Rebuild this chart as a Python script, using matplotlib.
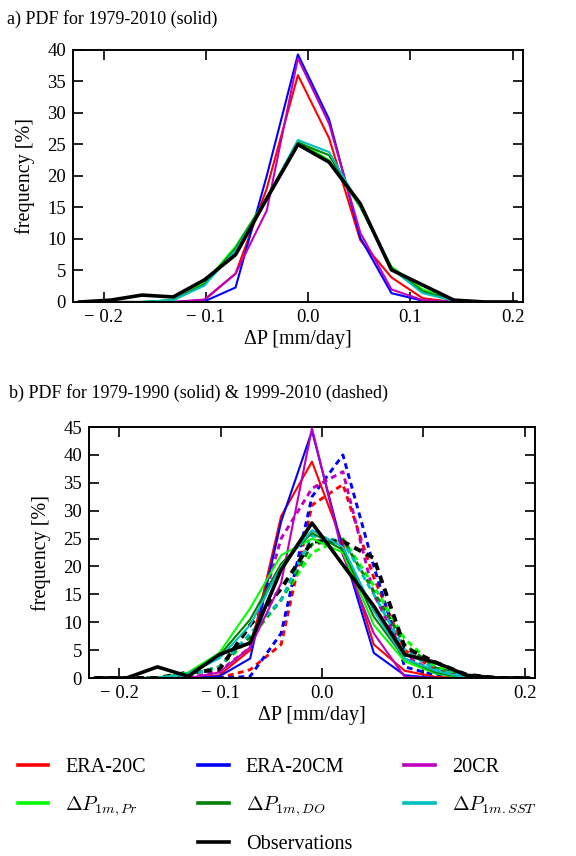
import numpy as np
import matplotlib
matplotlib.use("Agg")
import matplotlib.pyplot as plt
from matplotlib.lines import Line2D

plt.rcParams['font.family'] = ['Liberation Serif', 'DejaVu Serif']
plt.rcParams['mathtext.fontset'] = 'cm'

# bin centres (mm/day)
dp = [-0.2235, -0.193, -0.1625, -0.132, -0.1015, -0.071, -0.0405, -0.01,
      0.0205, 0.051, 0.0815, 0.112, 0.1425, 0.173, 0.2035]

names = ['ERA-20C', 'ERA-20CM', '20CR', 'Pr', 'DO', 'SST', 'Observations']
colors = ['#ff0000', '#0000ff', '#bf00bf', '#00ff00', '#008000', '#00bfbf', '#000000']

# panel a: 1979-2010
a_era20c = [0, 0, 0, 0, 0.3, 4.5, 18, 36, 26, 9.8, 3.9, 0.6, 0, 0, 0]
a_era20cm = [0, 0, 0, 0, 0.1, 2.3, 20, 39.3, 29, 10.2, 1.4, 0.2, 0, 0, 0]
a_20cr = [0, 0, 0, 0, 0.4, 4.5, 14.5, 38.7, 28.3, 11, 2, 0.3, 0, 0, 0]
a_pr = [0, 0, 0, 0.3, 3, 8.8, 16.5, 25.5, 22.5, 15, 5.6, 2, 0.3, 0, 0]
a_do = [0, 0, 0, 0.3, 2.8, 8.5, 16.5, 25.3, 23.3, 15.2, 5.4, 1.7, 0.2, 0, 0]
a_sst = [0, 0, 0, 0.3, 2.6, 8.2, 16.5, 25.7, 23.8, 15.2, 5.3, 1.4, 0.2, 0, 0]
a_obs = [0, 0.3, 1.1, 0.8, 3.5, 7.5, 16.4, 25, 22.2, 15.6, 5.1, 2.7, 0.3, 0, 0]

# panel b: 1979-1990 (solid)
b1_era20c = [0, 0, 0, 0, 0.5, 5, 29, 38.8, 24, 6, 1.3, 0.2, 0, 0, 0]
b1_era20cm = [0, 0, 0, 0, 0.3, 3.5, 28, 44.3, 23, 4.5, 0.5, 0, 0, 0, 0]
b1_20cr = [0, 0, 0, 0, 1, 5.5, 17, 44.8, 22, 8, 0.2, 0, 0, 0, 0]
b1_pr = [0, 0, 0, 1, 4.5, 12.5, 22, 25, 22.5, 9.5, 3, 0.8, 0, 0, 0]
b1_do = [0, 0, 0, 0.8, 4, 10.5, 20.5, 26, 23, 11, 3.5, 1, 0, 0, 0]
b1_sst = [0, 0, 0, 0.8, 3.5, 9.5, 20, 26.5, 23.5, 12, 3.5, 1.3, 0, 0, 0]
b1_obs = [0, 0, 2, 0.3, 4.2, 6.3, 19.4, 27.8, 20.3, 12.9, 4.2, 2.8, 0.5, 0, 0]

# panel b: 1999-2010 (dashed)
b2_era20c = [0, 0, 0, 0, 0, 1.5, 6, 31, 34.7, 18, 5, 1.5, 0.3, 0, 0]
b2_era20cm = [0, 0, 0, 0, 0, 0.3, 8, 32.5, 40, 20, 2, 0.5, 0, 0, 0]
b2_20cr = [0, 0, 0, 0, 1.2, 5.5, 25, 34, 37, 15, 4, 1, 0, 0, 0]
b2_pr = [0, 0, 0, 0.5, 2, 7, 14, 22.5, 25, 16.5, 7, 2, 0.5, 0, 0]
b2_do = [0, 0, 0, 0.5, 2, 7.5, 14, 24, 24.8, 15.5, 6, 1.8, 0.4, 0, 0]
b2_sst = [0, 0, 0, 0.5, 2, 8, 14, 25.5, 24.5, 15, 5, 1.5, 0.3, 0, 0]
b2_obs = [0, 0, 0, 1, 1.5, 9.5, 16, 24.5, 24.5, 21.5, 5.5, 2.8, 0.6, 0, 0]

a_series = [a_era20c, a_era20cm, a_20cr, a_pr, a_do, a_sst, a_obs]
b1_series = [b1_era20c, b1_era20cm, b1_20cr, b1_pr, b1_do, b1_sst, b1_obs]
b2_series = [b2_era20c, b2_era20cm, b2_20cr, b2_pr, b2_do, b2_sst, b2_obs]

xticks = [-0.2, -0.1, 0.0, 0.1, 0.2]

fig = plt.figure(figsize=(5.76, 8.56), dpi=100)
ax1 = fig.add_axes([0.1267, 0.6472, 0.781, 0.2944])
ax2 = fig.add_axes([0.1545, 0.2079, 0.7743, 0.2932])


def style(ax, ymax):
    ax.set_xlim(-0.23, 0.21)
    ax.set_ylim(0, ymax)
    ax.set_xticks(xticks)
    ax.set_xticklabels(['\u2212 0.2', '\u2212 0.1', '0.0', '0.1', '0.2'])
    ax.set_yticks(np.arange(0, ymax + 1, 5))
    ax.tick_params(direction='in', top=True, right=True, length=7, width=1.2,
                   labelsize=13.5, pad=5)
    for s in ax.spines.values():
        s.set_linewidth(1.4)
    ax.set_xlabel('\u0394P [mm/day]', fontsize=14.5, labelpad=3)
    ax.set_ylabel('frequency [%]', fontsize=14.5, labelpad=9)


for ys, c in zip(a_series, colors):
    lw = 2.6 if c == '#000000' else 1.5
    ax1.plot(dp, ys, color=c, lw=lw)
style(ax1, 40)

for ys, c in zip(b2_series, colors):
    lw = 2.8 if c == '#000000' else 2.1
    ax2.plot(dp, ys, color=c, lw=lw, ls=(0, (2.0, 1.5)))
for ys, c in zip(b1_series, colors):
    lw = 2.6 if c == '#000000' else 1.5
    ax2.plot(dp, ys, color=c, lw=lw)
style(ax2, 45)

fig.text(0.012, 0.978, 'a) PDF for 1979-2010 (solid)', fontsize=13, va='center')
fig.text(0.015, 0.541, 'b) PDF for 1979-1990 (solid) & 1999-2010 (dashed)', fontsize=13, va='center')

labels = ['ERA-20C', r'$\Delta P_{1m,Pr}$', '',
          'ERA-20CM', r'$\Delta P_{1m,DO}$', 'Observations',
          '20CR', r'$\Delta P_{1m.SST}$', '']
hcols = [colors[0], colors[3], None, colors[1], colors[4], colors[6], colors[2], colors[5], None]
handles = []
for c in hcols:
    if c is None:
        handles.append(Line2D([], [], color='none'))
    else:
        handles.append(Line2D([], [], color=c, lw=2.6))
leg = fig.legend(handles, labels, ncol=3, loc='upper left', bbox_to_anchor=(18 / 576, 0.1145),
                 frameon=False, fontsize=14.5, handlelength=1.5, handletextpad=0.85,
                 columnspacing=2.6, labelspacing=0.85, borderpad=0, borderaxespad=0)

fig.savefig('out.png', dpi=100)
